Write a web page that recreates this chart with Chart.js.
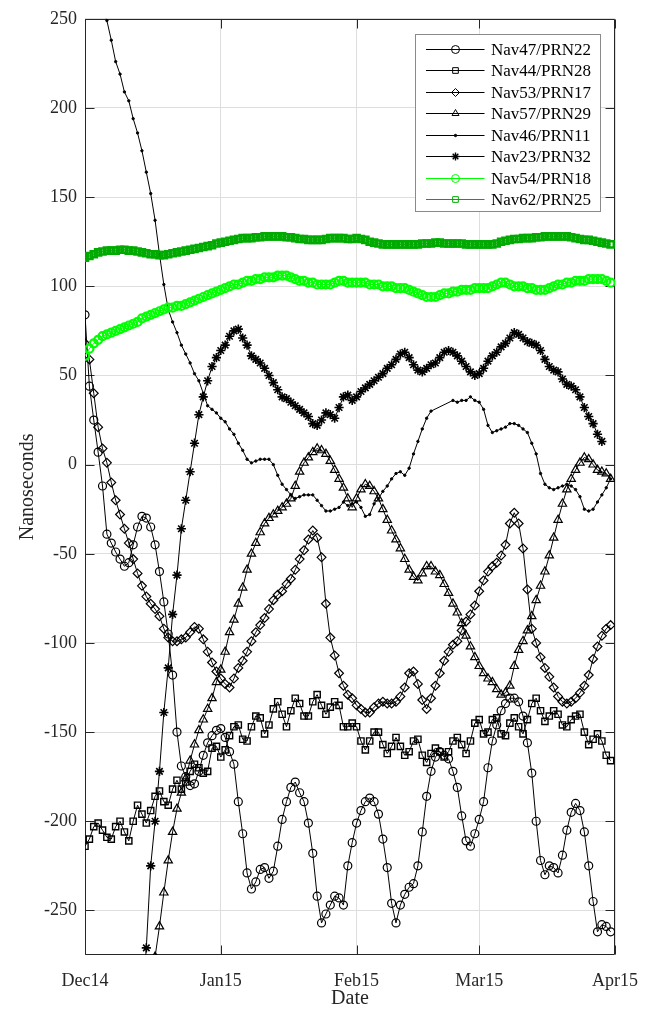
<!DOCTYPE html>
<html><head><meta charset="utf-8">
<script src="https://cdn.jsdelivr.net/npm/chart.js"></script>
<style>html,body{margin:0;padding:0;background:#fff;overflow:hidden}canvas{display:block}</style>
</head><body>
<canvas id="c" width="653" height="1011" style="width:653px;height:1011px"></canvas>
<script>
// ---- data (day 0 = 1 Dec 2014) ----
const days = [0,1,2,3,4,5,6,7,8,9,10,11,12,13,14,15,16,17,18,19,20,21,22,23,24,25,26,27,28,29,30,31,32,33,34,35,36,37,38,39,40,41,42,43,44,45,46,47,48,49,50,51,52,53,54,55,56,57,58,59,60,61,62,63,64,65,66,67,68,69,70,71,72,73,74,75,76,77,78,79,80,81,82,83,84,85,86,87,88,89,90,91,92,93,94,95,96,97,98,99,100,101,102,103,104,105,106,107,108,109,110,111,112,113,114,115,116,117,118,119,120];
const tickDays = [0,31,62,90,121];
const tickLabels = ['Dec14','Jan15','Feb15','Mar15','Apr15'];
const yTicks = [-250,-200,-150,-100,-50,0,50,100,150,200,250];
const seriesNames = ['Nav47/PRN22','Nav44/PRN28','Nav53/PRN17','Nav57/PRN29','Nav46/PRN11','Nav23/PRN32','Nav54/PRN18','Nav62/PRN25'];

const nav47 = [84,44,25,7,-12,-39,-44,-49,-53,-57,
-55,-45,-35,-29,-30,-35,-45,-60,-77,-95,
-118,-150,-169,-175,-180,-179,-172,-163,-156,-152,
-149,-148,-153,-161,-168,-189,-207,-229,-238,-234,
-227,-226,-232,-228,-214,-199,-189,-181,-178,-184,
-189,-201,-218,-242,-257,-252,-247,-242,-243,-247,
-225,-212,-201,-194,-189,-187,-189,-196,-210,-226,
-246,-257,-247,-241,-237,-235,-225,-206,-186,-172,
-164,-161,-163,-165,-172,-181,-197,-211,-214,-207,
-199,-189,-170,-155,-146,-138,-134,-131,-131,-133,
-141,-156,-173,-200,-222,-230,-225,-226,-229,-219,
-205,-195,-190,-194,-206,-225,-245,-262,-258,-259,
-262];
const nav44 = [-214,-210,-203,-201,-205,-209,-210,-203,-200,-206,
-211,-200,-191,-196,-201,-194,-186,-183,-189,-191,
-182,-177,-182,-178,-172,-168,-170,-173,-172,-159,
-158,-164,-160,-152,-147,-146,-154,-155,-147,-141,
-142,-151,-146,-137,-133,-140,-147,-138,-131,-134,
-141,-141,-133,-129,-135,-140,-136,-133,-135,-147,
-147,-145,-147,-155,-160,-155,-150,-150,-157,-162,
-158,-153,-158,-163,-161,-155,-154,-163,-167,-162,
-159,-161,-164,-161,-155,-153,-157,-162,-155,-145,
-143,-151,-150,-143,-142,-151,-152,-145,-142,-147,
-151,-143,-134,-131,-138,-144,-141,-138,-140,-146,
-147,-143,-141,-140,-150,-157,-154,-151,-155,-163,
-166];
const nav53 = [68,59,40,21,9,1,-10,-20,-28,-36,
-44,-53,-61,-68,-74,-78,-81,-85,-92,-97,
-99,-99,-98,-97,-94,-91,-92,-98,-105,-111,
-116,-120,-123,-125,-120,-114,-110,-105,-99,-94,
-90,-86,-81,-76,-73,-71,-67,-64,-59,-53,
-48,-42,-37,-41,-52,-78,-97,-107,-117,-124,
-129,-131,-135,-137,-139,-139,-136,-134,-133,-134,
-134,-133,-130,-125,-117,-116,-123,-132,-137,-131,
-124,-117,-110,-105,-101,-99,-93,-88,-84,-79,
-71,-65,-60,-57,-55,-51,-45,-33,-27,-33,
-47,-70,-92,-100,-108,-114,-119,-125,-130,-133,
-134,-133,-131,-128,-124,-118,-109,-102,-96,-92,
-90];
const nav57 = [null,null,null,null,null,null,null,null,null,null,
null,null,null,null,null,null,-276,-259,-240,-222,
-206,-193,-184,-176,-166,-157,-149,-143,-137,-131,
-122,-115,-105,-94,-87,-78,-69,-59,-50,-44,
-38,-33,-30,-28,-26,-24,-22,-19,-12,-4,
1,4,7,9,8,6,2,-3,-8,-13,
-19,-24,-19,-14,-11,-12,-15,-19,-25,-31,
-37,-42,-47,-53,-59,-63,-65,-61,-57,-57,
-60,-62,-67,-72,-78,-83,-89,-96,-102,-108,
-113,-117,-120,-122,-126,-129,-128,-124,-113,-104,
-99,-93,-85,-76,-68,-60,-51,-41,-31,-22,
-14,-8,-3,1,4,3,0,-3,-4,-5,
-8];
const nav46 = [null,null,null,null,256,249,238,226,219,209,
204,194,186,176,164,152,137,118,101,87,
80,74,67,62,57,51,47,40,33,31,
29,26,24,20,17,12,8,3,1,2,
3,3,3,0,-6,-11,-14,-17,-19,-18,
-17,-17,-17,-20,-23,-26,-26,-25,-24,-21,
-23,-22,-21,-24,-29,-28,-22,-19,-15,-12,
-8,-5,-4,-6,-2,6,13,20,26,30,
null,null,null,null,36,35,36,36,38,36,
35,31,22,18,19,20,21,23,23,22,
20,18,12,6,-5,-11,-13,-14,-13,-12,
-11,-12,-14,-18,-25,-26,-25,-21,-17,-13,
-8];
const nav23 = [null,null,null,null,null,null,null,null,null,null,
null,null,null,-305,-271,-225,-200,-172,-139,-114,
-84,-62,-36,-20,-4,12,28,38,47,55,
60,64,67,72,75,76,71,67,61,59,
57,54,50,46,42,38,37,35,33,31,
29,27,23,22,25,29,28,26,32,38,
39,36,38,41,43,45,47,49,51,54,
56,59,62,63,60,56,53,52,54,56,
57,60,63,64,63,61,58,55,52,50,
51,54,58,61,63,66,68,71,74,73,
71,69,68,67,64,59,55,53,52,48,
45,44,42,38,32,27,23,17,13,null,
null];
const nav54 = [61,65,68,70,72,73,74,75,76,77,
78,79,80,82,83,84,85,86,87,88,
88,89,89,90,91,92,93,94,95,96,
97,98,99,100,101,101,102,103,103,104,
104,105,105,105,106,106,106,105,104,103,
103,102,102,101,101,101,101,102,103,103,
102,102,102,102,102,101,101,101,100,100,
100,99,99,99,98,97,96,95,94,94,
94,95,96,96,97,97,98,98,98,99,
99,99,99,100,101,102,102,101,100,100,
100,99,99,98,98,98,99,100,101,101,
102,102,103,103,103,104,104,104,104,103,
102];
const nav62 = [116,117,118,119,119.5,120,120,120,120.5,120.5,
120,120,119.5,119,118.5,118,118,117.5,117.5,118,
118.5,119,119.5,120,120.5,121,121.5,122,122.5,123,
124,124.5,125,125.5,126,126.5,127,127,127,127.5,
127.5,128,128,128,128,128,127.5,127.5,127,126.5,
126.5,126,126,126,126,126.5,127,127,127,127,
126.5,126.5,127,126.5,126,125,124.5,124,123.5,123.5,
123.5,123.5,123.5,123.5,123.5,123.5,123.5,124,124,124,
124.5,124.5,124,124,124,124,124,123.5,123.5,123.5,
123.5,123.5,123.5,123.5,124,125,125.5,126,126.5,126.5,
127,127,127,127.5,127.5,128,128,128,128,128,
128,127.5,127,126.5,126,126,125.5,125,124.5,124,
123.5];

const seriesValues = [nav47, nav44, nav53, nav57, nav46, nav23, nav54, nav62];

// ---- styles ----
const FONT = "'Liberation Serif','Times New Roman',serif";
const AXC = '#262626';
const styles = [
  {color:'#000000', point:'circle',   r:4.0, fill:false, gap:false, bw:1.2},
  {color:'#000000', point:'rect',     r:4.4, fill:false, gap:false, bw:1.4},
  {color:'#000000', point:'rectRot',  r:4.4, fill:false, gap:false, bw:1.2},
  {color:'#000000', point:'triangle', r:4.8, fill:false, gap:false, bw:1.2},
  {color:'#000000', point:'circle',   r:1.2, fill:true,  gap:true,  bw:1},
  {color:'#000000', point:'star',     r:4.6, fill:false, gap:false, bw:1.6},
  {color:'#00ff00', point:'circle',   r:4.0, fill:false, gap:false, bw:2.2},
  {color:'#00aa00', point:'rect',     r:4.4, fill:false, gap:false, bw:2.4}
];

const datasets = seriesValues.map((vals, i) => {
  const s = styles[i];
  return {
    label: seriesNames[i],
    data: days.map((d, k) => ({x: d, y: vals[k]})),
    borderColor: s.color,
    borderWidth: 1,
    pointStyle: s.point,
    pointRadius: s.r,
    pointBorderColor: s.color,
    pointBackgroundColor: s.fill ? s.color : 'rgba(0,0,0,0)',
    pointBorderWidth: s.bw,
    spanGaps: s.gap,
    tension: 0,
    order: seriesValues.length - i
  };
});

function drawMarker(ctx, style, r, x, y, stroke, fill) {
  ctx.save();
  ctx.strokeStyle = stroke; ctx.fillStyle = fill; ctx.lineWidth = 1;
  ctx.beginPath();
  if (style === 'circle') { ctx.arc(x, y, r, 0, Math.PI * 2); }
  else if (style === 'rect') { const s = r * Math.SQRT1_2; ctx.rect(x - s, y - s, 2 * s, 2 * s); }
  else if (style === 'rectRot') { ctx.moveTo(x, y - r); ctx.lineTo(x + r, y); ctx.lineTo(x, y + r); ctx.lineTo(x - r, y); ctx.closePath(); }
  else if (style === 'triangle') {
    let a = 0;
    ctx.moveTo(x + Math.sin(a) * r, y - Math.cos(a) * r); a += 2 * Math.PI / 3;
    ctx.lineTo(x + Math.sin(a) * r, y - Math.cos(a) * r); a += 2 * Math.PI / 3;
    ctx.lineTo(x + Math.sin(a) * r, y - Math.cos(a) * r); ctx.closePath();
  } else if (style === 'star') {
    for (let k = 0; k < 4; k++) {
      const a = k * Math.PI / 4;
      ctx.moveTo(x - Math.cos(a) * r, y - Math.sin(a) * r);
      ctx.lineTo(x + Math.cos(a) * r, y + Math.sin(a) * r);
    }
    ctx.lineWidth = 1.4;
  }
  ctx.fill(); ctx.stroke();
  ctx.restore();
}

const framePlugin = {
  id: 'frame',
  beforeDatasetsDraw(chart) {
    const {ctx, chartArea: a, scales: {x, y}} = chart;
    const L = Math.round(a.left) + 0.5, R = Math.round(a.right) - 0.5;
    const T = Math.round(a.top) + 0.5, B = Math.round(a.bottom) - 0.5;
    ctx.save();
    ctx.strokeStyle = AXC; ctx.lineWidth = 1;
    ctx.beginPath();
    ctx.rect(L, T, R - L, B - T);
    yTicks.forEach(v => {
      const py = Math.round(y.getPixelForValue(v)) + 0.5;
      ctx.moveTo(L, py); ctx.lineTo(L + 9, py);
      ctx.moveTo(R, py); ctx.lineTo(R - 9, py);
    });
    tickDays.forEach(v => {
      const px = Math.round(x.getPixelForValue(v)) + 0.5;
      ctx.moveTo(px, B); ctx.lineTo(px, B - 9);
      ctx.moveTo(px, T); ctx.lineTo(px, T + 9);
    });
    ctx.stroke();
    ctx.restore();
  }
};

const legendPlugin = {
  id: 'boxLegend',
  afterDraw(chart) {
    const ctx = chart.ctx;
    const x0 = 415.5, y0 = 34.5, w = 185, h = 177;
    ctx.save();
    ctx.fillStyle = '#ffffff'; ctx.fillRect(x0, y0, w, h);
    ctx.strokeStyle = '#8a8a8a'; ctx.lineWidth = 1; ctx.strokeRect(x0, y0, w, h);
    ctx.font = "17px " + FONT; ctx.textBaseline = 'middle'; ctx.textAlign = 'left';
    chart.data.datasets.forEach((ds, i) => {
      const yy = Math.round(48.6 + i * 21.53) + 0.5;
      ctx.strokeStyle = ds.borderColor; ctx.lineWidth = 1;
      ctx.beginPath(); ctx.moveTo(426, yy); ctx.lineTo(484.5, yy); ctx.stroke();
      drawMarker(ctx, ds.pointStyle, Math.min(ds.pointRadius, 4), 455.5, yy, ds.pointBorderColor, ds.pointBackgroundColor);
      ctx.fillStyle = '#000000';
      ctx.fillText(ds.label, 491, yy + 1);
    });
    ctx.restore();
  }
};

new Chart(document.getElementById('c'), {
  type: 'line',
  data: {datasets},
  options: {
    responsive: false,
    animation: false,
    devicePixelRatio: 1,
    layout: {padding: {top: 15, right: 34, left: 0, bottom: 0}},
    plugins: {legend: {display: false}, tooltip: {enabled: false}},
    elements: {line: {borderJoinStyle: 'round'}},
    scales: {
      x: {
        type: 'linear', min: 0, max: 121,
        afterBuildTicks: s => { s.ticks = tickDays.map(v => ({value: v})); },
        afterFit: s => { s.height = 56; },
        ticks: {
          autoSkip: false, maxRotation: 0, padding: 15, color: AXC,
          font: {family: FONT, size: 18},
          callback: v => tickLabels[tickDays.indexOf(v)]
        },
        grid: {color: '#dedede', lineWidth: 1, drawTicks: false},
        border: {display: false},
        title: {display: true, text: 'Date', color: AXC, font: {family: FONT, size: 20}, padding: {top: 0, bottom: 0}}
      },
      y: {
        type: 'linear', min: -275, max: 250,
        afterBuildTicks: s => { s.ticks = yTicks.map(v => ({value: v})); },
        afterFit: s => { s.width = 85; },
        ticks: {padding: 8, color: AXC, font: {family: FONT, size: 18}},
        grid: {color: '#dedede', lineWidth: 1, drawTicks: false},
        border: {display: false},
        title: {display: true, text: 'Nanoseconds', color: AXC, font: {family: FONT, size: 20}, padding: {top: 16, bottom: 0}}
      }
    }
  },
  plugins: [framePlugin, legendPlugin]
});
</script>
</body></html>
